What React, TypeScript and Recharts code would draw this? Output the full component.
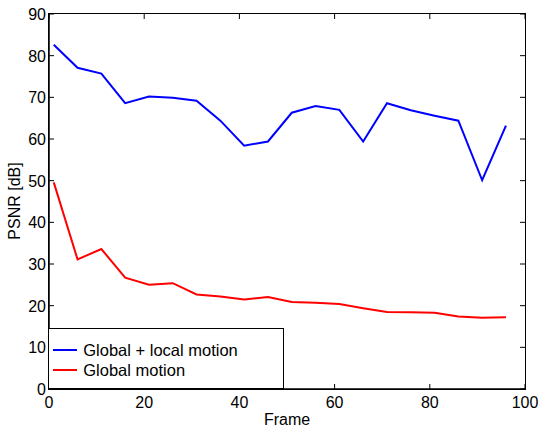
import { LineChart, Line, XAxis, YAxis } from "recharts";

const frames = [1, 6, 11, 16, 21, 26, 31, 36, 41, 46, 51, 56, 61, 66, 71, 76, 81, 86, 91, 96];
const globalLocal = [82.6, 77.1, 75.7, 68.6, 70.2, 69.9, 69.2, 64.4, 58.4, 59.4, 66.3, 67.9, 67.0, 59.4, 68.6, 66.9, 65.6, 64.4, 50.1, 63.2];
const globalOnly = [49.6, 31.1, 33.6, 26.7, 25.0, 25.4, 22.7, 22.2, 21.5, 22.1, 20.9, 20.7, 20.4, 19.4, 18.5, 18.4, 18.3, 17.4, 17.1, 17.2];
const xTicks = [0, 20, 40, 60, 80, 100];
const yTicks = [0, 10, 20, 30, 40, 50, 60, 70, 80, 90];

const data = frames.map((f, i) => ({ frame: f, gl: globalLocal[i], g: globalOnly[i] }));

const FONT = "'Liberation Sans', Arial, Helvetica, sans-serif";
const LEFT = 49;
const RIGHT = 525;
const TOP = 14;
const BOTTOM = 389;
const TICK = 5;

function XTick(props: any) {
  const { x, payload } = props;
  return (
    <g>
      <line x1={x} x2={x} y1={BOTTOM} y2={BOTTOM - TICK} stroke="#000" />
      <line x1={x} x2={x} y1={TOP} y2={TOP + TICK} stroke="#000" />
      <text x={x} y={BOTTOM + 19} textAnchor="middle" fontSize={16} fontFamily={FONT} fill="#000">
        {payload.value}
      </text>
    </g>
  );
}

function YTick(props: any) {
  const { y, payload } = props;
  return (
    <g>
      <line x1={LEFT} x2={LEFT + TICK} y1={y} y2={y} stroke="#000" />
      <line x1={RIGHT} x2={RIGHT - TICK} y1={y} y2={y} stroke="#000" />
      <text x={LEFT - 3} y={y + 6} textAnchor="end" fontSize={16} fontFamily={FONT} fill="#000">
        {payload.value}
      </text>
    </g>
  );
}

const legendItems = [
  { label: "Global + local motion", color: "#0000ff" },
  { label: "Global motion", color: "#ff0000" },
];

export default function App() {
  return (
    <div style={{ position: "absolute", left: 0, top: 0, width: 540, height: 429, background: "#fff" }}>
      <LineChart
        width={540}
        height={429}
        data={data}
        margin={{ top: TOP, right: 540 - RIGHT, bottom: 10, left: LEFT - 30 }}
      >
        <XAxis
          dataKey="frame"
          type="number"
          domain={[0, 100]}
          ticks={xTicks}
          tick={<XTick />}
          tickLine={false}
          axisLine={{ stroke: "#000", strokeWidth: 1.5 }}
          height={30}
          interval={0}
        />
        <YAxis
          type="number"
          domain={[0, 90]}
          ticks={yTicks}
          tick={<YTick />}
          tickLine={false}
          axisLine={{ stroke: "#000", strokeWidth: 1.5 }}
          width={30}
          interval={0}
        />
        <Line dataKey="gl" stroke="#0000ff" strokeWidth={2} dot={false} isAnimationActive={false} />
        <Line dataKey="g" stroke="#ff0000" strokeWidth={2} dot={false} isAnimationActive={false} />
      </LineChart>

      {/* plot frame */}
      <div
        style={{
          position: "absolute",
          left: LEFT - 0.75,
          top: TOP - 0.75,
          width: RIGHT - LEFT,
          height: BOTTOM - TOP,
          border: "1.5px solid #000",
          pointerEvents: "none",
        }}
      />

      {/* legend */}
      <div
        style={{
          position: "absolute",
          left: LEFT - 0.75,
          top: BOTTOM - 61,
          width: 236,
          height: 61,
          boxSizing: "border-box",
          border: "1.5px solid #000",
          background: "#fff",
          paddingTop: 11,
          fontFamily: FONT,
          fontSize: 16.5,
        }}
      >
        {legendItems.map((it) => (
          <div key={it.label} style={{ display: "flex", alignItems: "center", height: 20 }}>
            <div style={{ width: 24, height: 2, background: it.color, marginLeft: 4, marginRight: 6 }} />
            <span>{it.label}</span>
          </div>
        ))}
      </div>

      <div
        style={{
          position: "absolute",
          left: 287,
          top: 420,
          transform: "translate(-50%, -50%)",
          fontFamily: FONT,
          fontSize: 16,
        }}
      >
        Frame
      </div>
      <div
        style={{
          position: "absolute",
          left: 15,
          top: 201,
          transform: "translate(-50%, -50%) rotate(-90deg)",
          fontFamily: FONT,
          fontSize: 16,
          whiteSpace: "nowrap",
        }}
      >
        PSNR [dB]
      </div>
    </div>
  );
}
